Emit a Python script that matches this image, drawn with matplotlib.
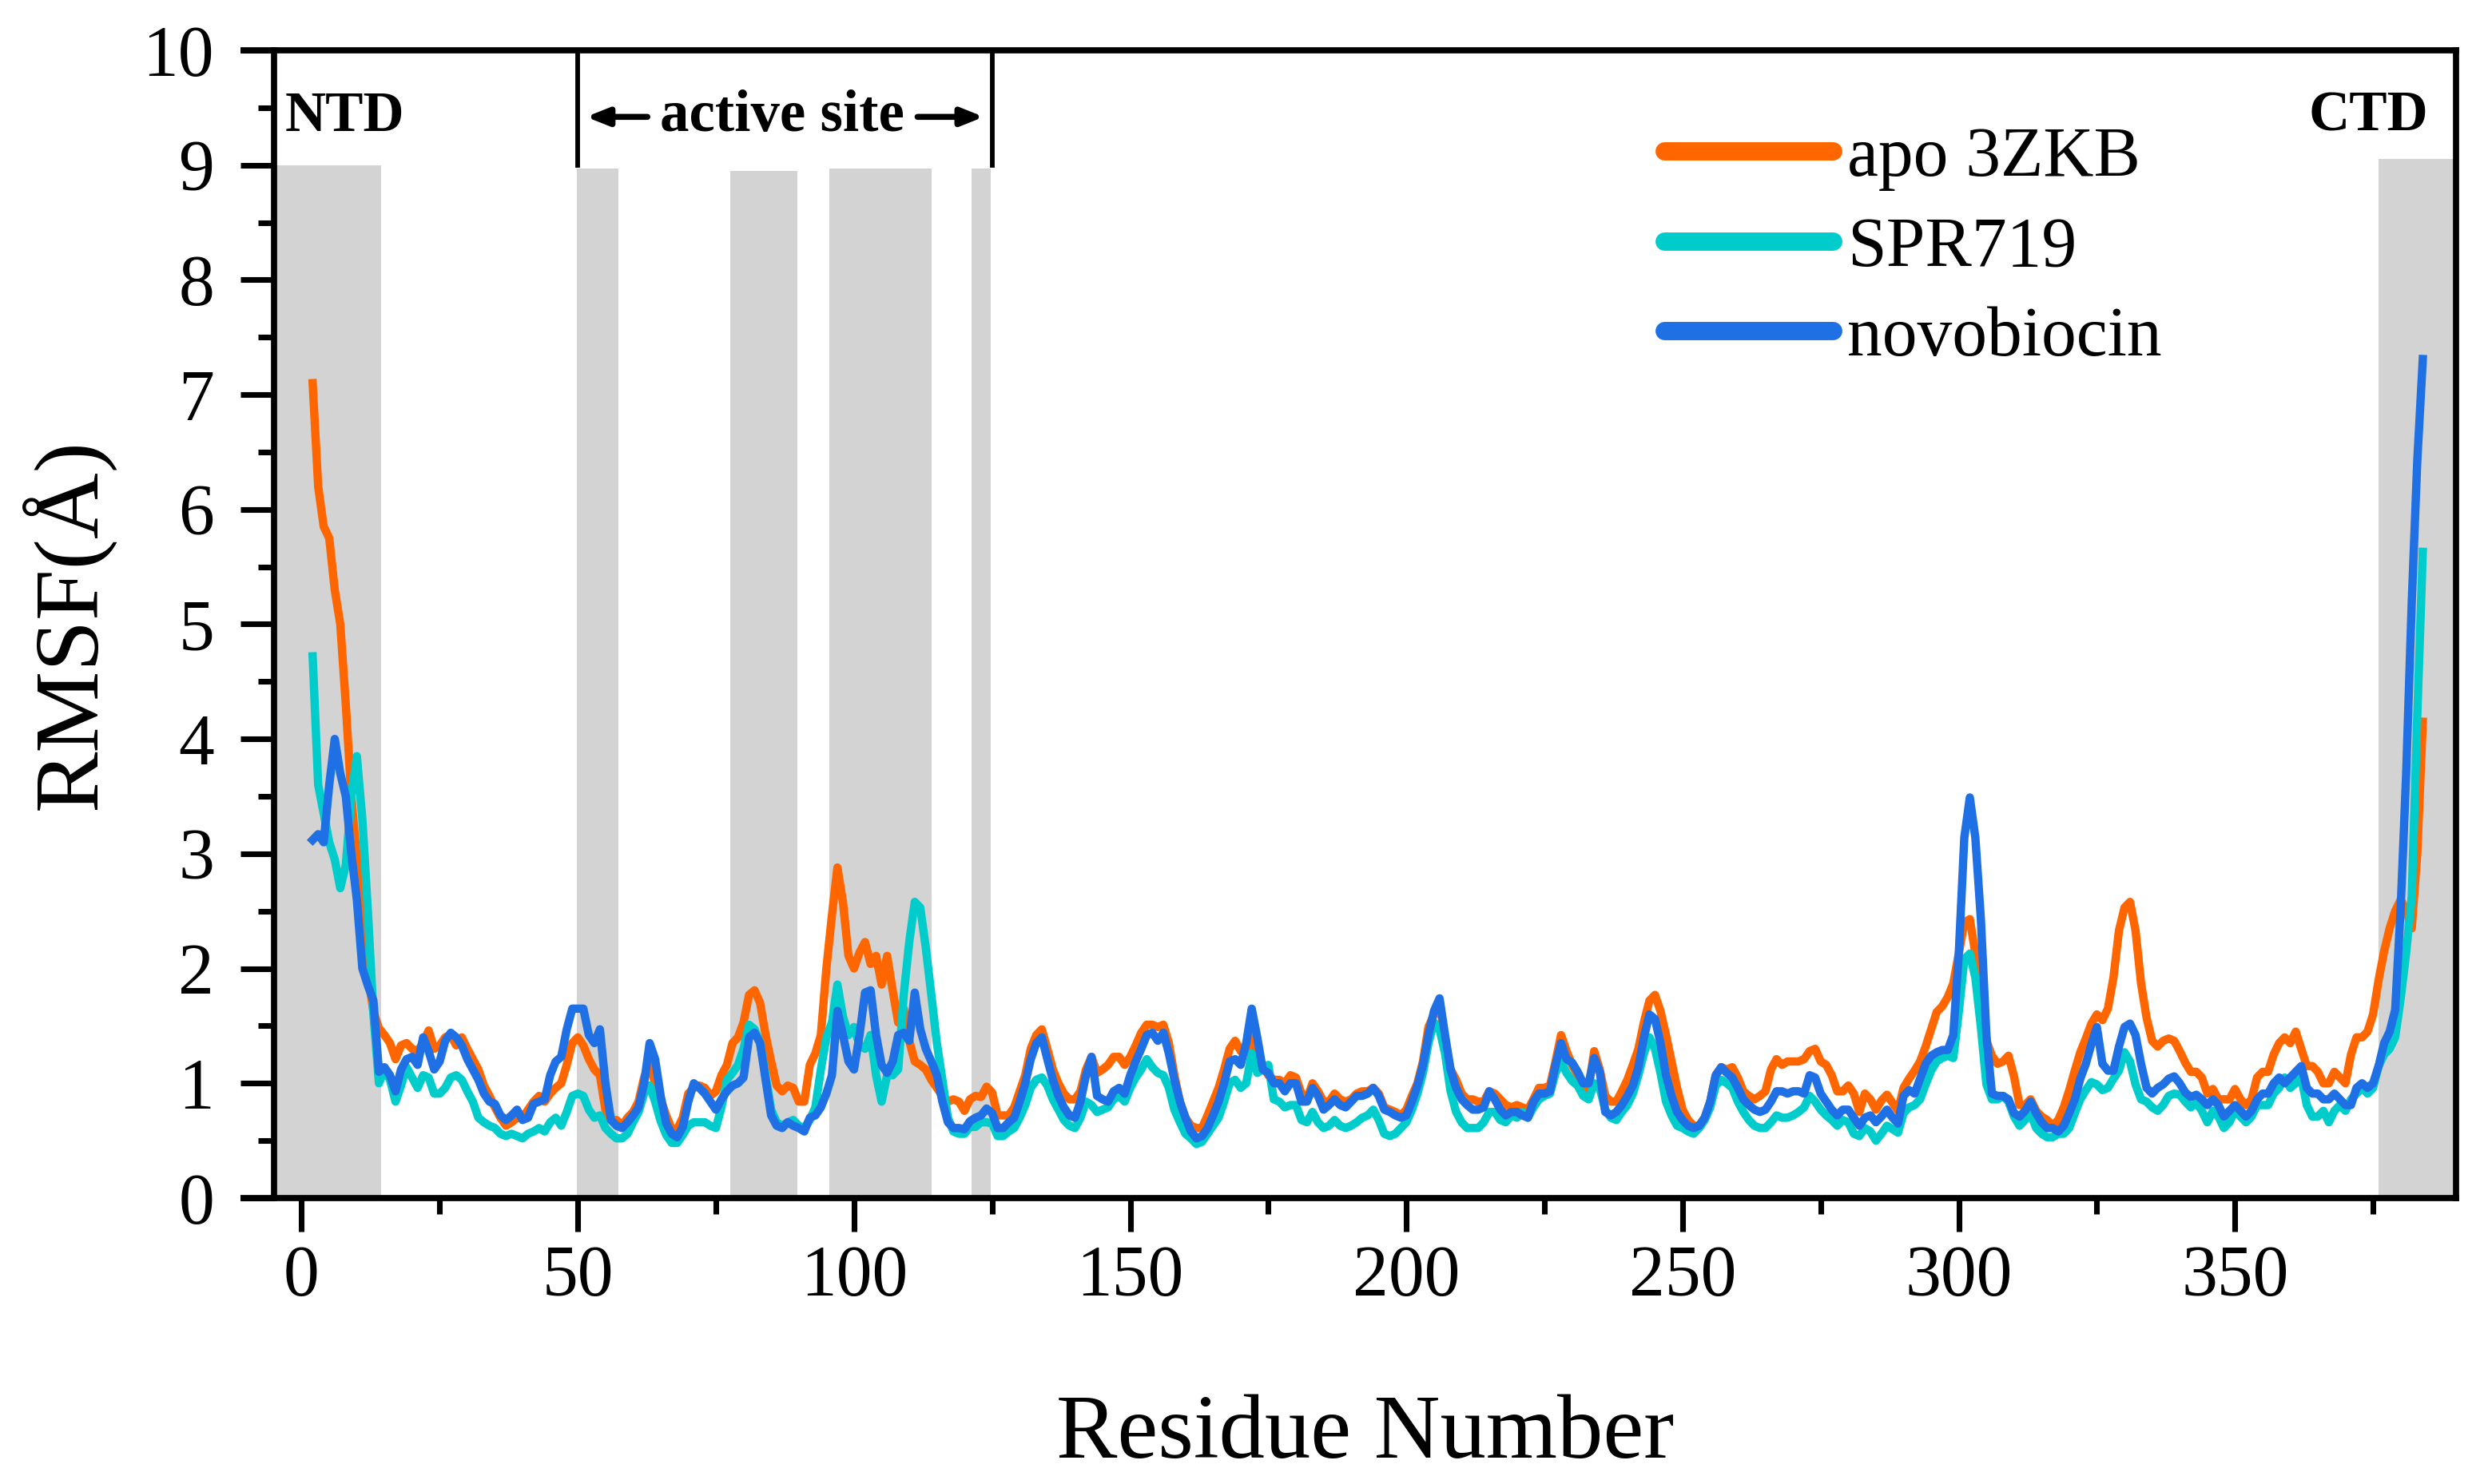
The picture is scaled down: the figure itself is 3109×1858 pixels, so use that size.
import matplotlib
matplotlib.use("Agg")
import matplotlib.pyplot as plt
from matplotlib.lines import Line2D

plt.rcParams['font.family'] = ['Liberation Serif', 'DejaVu Serif']

# ---------------- data ----------------
residues = list(range(2, 385))

apo_3zkb = [
    7.10, 6.20, 5.85, 5.75, 5.30, 5.00, 4.30, 3.50,
    2.95, 2.40, 1.95, 1.62, 1.48, 1.42, 1.35, 1.21, 1.33, 1.35,
    1.30, 1.28, 1.35, 1.46, 1.30, 1.33, 1.40, 1.42, 1.33, 1.40,
    1.30, 1.21, 1.12, 0.98, 0.89, 0.79, 0.70, 0.63, 0.66, 0.70,
    0.70, 0.77, 0.84, 0.89, 0.84, 0.91, 0.96, 1.00, 1.16, 1.35,
    1.40, 1.33, 1.21, 1.12, 1.07, 0.77, 0.68, 0.68, 0.63, 0.70,
    0.75, 0.84, 1.05, 1.16, 1.00, 0.86, 0.72, 0.60, 0.60, 0.70,
    0.91, 0.96, 0.98, 0.96, 0.89, 0.93, 1.07, 1.16, 1.35, 1.40,
    1.53, 1.77, 1.81, 1.70, 1.42, 1.19, 0.98, 0.93, 0.98, 0.96,
    0.84, 0.84, 1.16, 1.26, 1.42, 2.00, 2.46, 2.88, 2.58, 2.11,
    2.00, 2.14, 2.23, 2.04, 2.11, 1.86, 2.11, 1.81, 1.53, 1.65,
    1.37, 1.19, 1.16, 1.12, 1.03, 0.96, 0.89, 0.84, 0.86, 0.84,
    0.76, 0.86, 0.89, 0.88, 0.97, 0.92, 0.72, 0.72, 0.72, 0.79,
    0.93, 1.07, 1.30, 1.42, 1.47, 1.30, 1.12, 1.00, 0.91, 0.86,
    0.86, 0.93, 1.12, 1.23, 1.09, 1.12, 1.16, 1.23, 1.23, 1.16,
    1.23, 1.33, 1.44, 1.51, 1.51, 1.49, 1.51, 1.35, 1.07, 0.84,
    0.70, 0.63, 0.61, 0.61, 0.72, 0.84, 0.96, 1.12, 1.30, 1.37,
    1.28, 1.30, 1.40, 1.23, 1.16, 1.07, 1.03, 1.03, 1.00, 1.07,
    1.05, 0.91, 0.86, 1.00, 0.93, 0.84, 0.84, 0.91, 0.86, 0.84,
    0.86, 0.91, 0.93, 0.93, 0.96, 0.91, 0.79, 0.77, 0.75, 0.72,
    0.77, 0.89, 1.00, 1.19, 1.49, 1.60, 1.72, 1.35, 1.12, 1.03,
    0.91, 0.86, 0.86, 0.84, 0.84, 0.93, 0.91, 0.86, 0.81, 0.79,
    0.81, 0.79, 0.77, 0.86, 0.96, 0.96, 0.98, 1.19, 1.42, 1.28,
    1.16, 1.07, 0.93, 0.96, 1.28, 1.12, 0.89, 0.84, 0.84, 0.93,
    1.03, 1.16, 1.30, 1.53, 1.72, 1.77, 1.63, 1.42, 1.19, 0.96,
    0.77, 0.68, 0.63, 0.63, 0.70, 0.84, 1.07, 1.14, 1.12, 1.14,
    1.05, 0.93, 0.89, 0.86, 0.89, 0.93, 1.12, 1.21, 1.16, 1.19,
    1.19, 1.19, 1.21, 1.28, 1.30, 1.19, 1.16, 1.07, 0.93, 0.93,
    0.98, 0.91, 0.75, 0.91, 0.86, 0.77, 0.85, 0.90, 0.83, 0.76,
    0.96, 1.04, 1.11, 1.19, 1.32, 1.47, 1.62, 1.67, 1.75, 1.87,
    2.13, 2.40, 2.43, 2.13, 1.67, 1.37, 1.24, 1.17, 1.19, 1.24,
    1.06, 0.81, 0.81, 0.86, 0.76, 0.71, 0.68, 0.63, 0.68, 0.79,
    0.94, 1.11, 1.27, 1.39, 1.52, 1.60, 1.55, 1.65, 1.92, 2.33,
    2.53, 2.58, 2.33, 1.87, 1.57, 1.37, 1.32, 1.37, 1.39, 1.37,
    1.28, 1.18, 1.10, 1.10, 1.05, 0.91, 0.95, 0.86, 0.86, 0.86,
    0.95, 0.86, 0.81, 0.86, 1.05, 1.10, 1.10, 1.25, 1.35, 1.40,
    1.35, 1.45, 1.30, 1.15, 1.15, 1.10, 1.00, 1.00, 1.10, 1.05,
    1.00, 1.25, 1.40, 1.40, 1.45, 1.60, 1.90, 2.15, 2.35, 2.50,
    2.60, 2.50, 2.35, 3.00, 4.15,
]

spr719 = [
    4.72, 3.60, 3.35, 3.10, 2.95, 2.70, 2.90, 3.50,
    3.85, 3.30, 2.50, 1.60, 1.00, 1.12, 1.03, 0.84, 0.98, 1.14,
    1.05, 0.96, 1.07, 1.05, 0.91, 0.91, 0.96, 1.05, 1.07, 1.03,
    0.93, 0.84, 0.70, 0.66, 0.63, 0.61, 0.56, 0.54, 0.56, 0.54,
    0.52, 0.56, 0.58, 0.61, 0.58, 0.66, 0.70, 0.63, 0.75, 0.89,
    0.91, 0.89, 0.77, 0.70, 0.72, 0.61, 0.56, 0.52, 0.52, 0.56,
    0.66, 0.75, 0.91, 0.98, 0.84, 0.67, 0.55, 0.48, 0.48, 0.55,
    0.63, 0.66, 0.66, 0.66, 0.63, 0.61, 0.79, 1.03, 1.09, 1.16,
    1.30, 1.51, 1.47, 1.35, 1.07, 0.77, 0.66, 0.63, 0.66, 0.68,
    0.63, 0.61, 0.68, 0.79, 1.12, 1.40, 1.53, 1.86, 1.58, 1.42,
    1.49, 1.33, 1.30, 1.42, 1.07, 0.84, 1.07, 1.07, 1.12, 1.77,
    2.23, 2.58, 2.53, 2.18, 1.77, 1.35, 1.03, 0.70, 0.58, 0.56,
    0.56, 0.62, 0.62, 0.66, 0.66, 0.65, 0.54, 0.54, 0.58, 0.61,
    0.70, 0.81, 0.96, 1.03, 1.05, 0.98, 0.86, 0.77, 0.68, 0.63,
    0.61, 0.70, 0.84, 0.81, 0.75, 0.77, 0.79, 0.86, 0.89, 0.84,
    0.96, 1.05, 1.12, 1.21, 1.14, 1.09, 1.07, 0.96, 0.77, 0.66,
    0.56, 0.52, 0.47, 0.49, 0.56, 0.63, 0.70, 0.84, 1.00, 1.03,
    0.96, 1.00, 1.26, 1.09, 1.12, 1.16, 0.86, 0.84, 0.79, 0.81,
    0.81, 0.68, 0.66, 0.75, 0.66, 0.61, 0.63, 0.68, 0.63, 0.61,
    0.63, 0.66, 0.70, 0.72, 0.77, 0.68, 0.56, 0.54, 0.56, 0.61,
    0.66, 0.77, 0.91, 1.09, 1.35, 1.53, 1.47, 1.26, 0.93, 0.75,
    0.66, 0.61, 0.61, 0.61, 0.66, 0.75, 0.75, 0.68, 0.66, 0.72,
    0.70, 0.75, 0.70, 0.79, 0.86, 0.89, 0.91, 1.09, 1.19, 1.09,
    1.02, 0.98, 0.89, 0.86, 1.00, 0.96, 0.77, 0.70, 0.68, 0.75,
    0.81, 0.91, 1.07, 1.26, 1.40, 1.30, 1.09, 0.84, 0.72, 0.63,
    0.61, 0.58, 0.56, 0.61, 0.68, 0.79, 0.98, 1.03, 1.00, 0.96,
    0.84, 0.75, 0.68, 0.63, 0.61, 0.61, 0.66, 0.72, 0.70, 0.70,
    0.72, 0.75, 0.79, 0.89, 0.84, 0.77, 0.72, 0.68, 0.63, 0.68,
    0.66, 0.56, 0.54, 0.61, 0.58, 0.50, 0.56, 0.63, 0.60, 0.57,
    0.74, 0.79, 0.81, 0.86, 0.99, 1.11, 1.19, 1.22, 1.24, 1.22,
    1.62, 2.08, 2.13, 1.92, 1.49, 0.99, 0.86, 0.86, 0.89, 0.84,
    0.71, 0.63, 0.68, 0.74, 0.61, 0.56, 0.53, 0.53, 0.56, 0.56,
    0.61, 0.74, 0.86, 0.94, 1.01, 0.99, 0.94, 0.96, 1.04, 1.11,
    1.27, 1.19, 0.99, 0.86, 0.84, 0.79, 0.76, 0.81, 0.89, 0.91,
    0.90, 0.84, 0.79, 0.83, 0.76, 0.66, 0.76, 0.71, 0.61, 0.66,
    0.76, 0.71, 0.66, 0.71, 0.81, 0.81, 0.81, 0.91, 0.96, 1.05,
    0.96, 1.00, 1.05, 0.81, 0.71, 0.71, 0.76, 0.66, 0.76, 0.81,
    0.76, 0.86, 0.91, 0.96, 0.91, 0.96, 1.15, 1.25, 1.30, 1.40,
    1.74, 2.14, 2.63, 4.20, 5.63,
]

novobiocin = [
    3.12, 3.17, 3.10, 3.60, 4.00, 3.70, 3.50, 3.00,
    2.60, 2.00, 1.85, 1.72, 1.10, 1.14, 1.07, 0.93, 1.12, 1.21,
    1.23, 1.16, 1.40, 1.28, 1.12, 1.19, 1.37, 1.44, 1.40, 1.33,
    1.21, 1.12, 1.03, 0.91, 0.84, 0.82, 0.72, 0.68, 0.72, 0.77,
    0.68, 0.70, 0.82, 0.84, 0.86, 1.07, 1.19, 1.23, 1.47, 1.65,
    1.65, 1.65, 1.42, 1.35, 1.47, 1.00, 0.68, 0.63, 0.61, 0.66,
    0.72, 0.79, 1.00, 1.35, 1.21, 0.89, 0.65, 0.56, 0.53, 0.62,
    0.84, 1.00, 0.96, 0.91, 0.84, 0.77, 0.86, 0.93, 0.98, 1.00,
    1.05, 1.40, 1.44, 1.35, 1.03, 0.72, 0.63, 0.61, 0.66, 0.63,
    0.61, 0.58, 0.70, 0.72, 0.79, 0.91, 1.07, 1.63, 1.42, 1.19,
    1.12, 1.42, 1.79, 1.81, 1.42, 1.16, 1.09, 1.19, 1.42, 1.44,
    1.37, 1.79, 1.47, 1.30, 1.19, 1.07, 0.84, 0.66, 0.61, 0.61,
    0.60, 0.67, 0.70, 0.72, 0.78, 0.74, 0.61, 0.61, 0.66, 0.70,
    0.84, 1.00, 1.21, 1.35, 1.40, 1.21, 1.03, 0.89, 0.79, 0.72,
    0.70, 0.84, 1.07, 1.23, 0.89, 0.86, 0.84, 0.93, 0.96, 0.91,
    1.07, 1.19, 1.30, 1.42, 1.44, 1.37, 1.44, 1.26, 1.03, 0.84,
    0.70, 0.58, 0.52, 0.54, 0.61, 0.72, 0.84, 1.00, 1.19, 1.21,
    1.16, 1.35, 1.65, 1.40, 1.12, 1.09, 1.00, 1.00, 0.93, 1.00,
    1.00, 0.84, 0.84, 0.96, 0.89, 0.77, 0.81, 0.86, 0.81, 0.79,
    0.84, 0.89, 0.89, 0.91, 0.96, 0.89, 0.77, 0.75, 0.72, 0.70,
    0.72, 0.84, 0.98, 1.16, 1.42, 1.63, 1.74, 1.42, 1.12, 0.96,
    0.86, 0.81, 0.77, 0.77, 0.79, 0.93, 0.86, 0.77, 0.72, 0.75,
    0.75, 0.72, 0.70, 0.84, 0.91, 0.91, 0.93, 1.16, 1.35, 1.21,
    1.18, 1.10, 1.00, 1.00, 1.22, 1.10, 0.75, 0.72, 0.75, 0.81,
    0.89, 0.98, 1.14, 1.40, 1.60, 1.56, 1.35, 1.07, 0.89, 0.75,
    0.68, 0.63, 0.61, 0.63, 0.70, 0.84, 1.07, 1.14, 1.09, 1.05,
    0.96, 0.86, 0.81, 0.77, 0.75, 0.77, 0.84, 0.93, 0.93, 0.91,
    0.93, 0.93, 0.91, 1.07, 1.05, 0.91, 0.84, 0.77, 0.72, 0.77,
    0.77, 0.70, 0.63, 0.70, 0.72, 0.66, 0.71, 0.77, 0.70, 0.65,
    0.89, 0.94, 0.91, 1.04, 1.17, 1.24, 1.27, 1.29, 1.29, 1.42,
    2.13, 3.14, 3.49, 3.14, 2.43, 1.42, 0.91, 0.89, 0.89, 0.86,
    0.74, 0.71, 0.76, 0.84, 0.74, 0.66, 0.61, 0.61, 0.58, 0.63,
    0.74, 0.86, 1.04, 1.17, 1.34, 1.49, 1.17, 1.11, 1.11, 1.32,
    1.49, 1.52, 1.42, 1.17, 0.96, 0.91, 0.96, 0.99, 1.04, 1.06,
    1.00, 0.92, 0.88, 0.90, 0.86, 0.81, 0.86, 0.81, 0.71, 0.76,
    0.81, 0.76, 0.71, 0.76, 0.86, 0.91, 0.91, 1.00, 1.05, 1.00,
    1.05, 1.10, 1.15, 0.96, 0.91, 0.91, 0.86, 0.86, 0.91, 0.86,
    0.81, 0.81, 0.96, 1.00, 0.96, 1.00, 1.15, 1.35, 1.45, 1.64,
    2.53, 3.71, 5.19, 6.42, 7.31,
]

series_labels = ['apo 3ZKB', 'SPR719', 'novobiocin']
series_colors = ['#FF6600', '#00CCCC', '#1F6FE5']

# shaded residue ranges (start, end, top)
shade_start = [-5.0, 49.8, 77.6, 95.5, 121.3, 376.0]
shade_end = [14.4, 57.3, 89.7, 114.0, 124.7, 390.0]
shade_top = [9.0, 8.97, 8.95, 8.97, 8.97, 9.05]

region_lines = [50, 125]
x_ticks = [0, 50, 100, 150, 200, 250, 300, 350]
y_ticks = list(range(0, 11))

# ---------------- figure ----------------
fig = plt.figure(figsize=(3109 / 300, 1858 / 300), dpi=300)
ax = fig.add_axes([0.1103, 0.1927, 0.9887 - 0.1103, 0.9661 - 0.1927])

for s, e, t in zip(shade_start, shade_end, shade_top):
    ax.fill_between([s, e], 0, t, color='#D3D3D3', lw=0, zorder=0)

for vals, lab, col in zip([apo_3zkb, spr719, novobiocin], series_labels, series_colors):
    ax.plot(residues, vals, color=col, lw=2.5, label=lab, zorder=3)

for xv in region_lines:
    ax.plot([xv, xv], [9.0, 10.0], color='black', lw=1.4, zorder=4, clip_on=False)

ax.set_xlim(-5, 390)
ax.set_ylim(0, 10)
ax.set_xticks(x_ticks)
ax.set_xticks([25 + 50 * i for i in range(8)], minor=True)
ax.set_yticks(y_ticks)
ax.set_yticks([0.5 + i for i in range(10)], minor=True)

for sp in ax.spines.values():
    sp.set_linewidth(1.85)
ax.tick_params(axis='both', which='major', direction='out', length=10, width=1.7,
               labelsize=21.5)
ax.tick_params(axis='both', which='minor', direction='out', length=4.8, width=1.7)
ax.tick_params(axis='x', which='major', pad=4)
ax.tick_params(axis='y', which='major', pad=8)

# horizontal spines extend leftwards to the tick tips
ext = 10 * 300 / 72 / (fig.get_size_inches()[0] * 300 * (0.9887 - 0.1103))
for yy in (0, 1):
    ax.add_line(Line2D([-ext, 0], [yy, yy], transform=ax.transAxes, color='black',
                       lw=1.85, clip_on=False, solid_capstyle='butt'))

ax.set_xlabel('Residue Number', fontsize=27.5)
ax.set_ylabel('RMSF(Å)', fontsize=27.5)
ax.xaxis.set_label_coords(0.5, -0.171)
ax.yaxis.set_label_coords(-0.073, 0.5)

# region annotations
ax.text(-3.0, 9.42, 'NTD', fontsize=17, fontweight='bold', ha='left', va='center')
ax.text(385.0, 9.42, 'CTD', fontsize=17, fontweight='bold', ha='right', va='center')
ax.text(87.0, 9.42, 'active site', fontsize=17.5, fontweight='bold', ha='center', va='center')
ax.annotate('', xy=(50.3, 9.42), xytext=(63.8, 9.42),
            arrowprops=dict(arrowstyle='-|>,head_length=0.55,head_width=0.22', color='black', lw=1.8))
ax.annotate('', xy=(124.7, 9.42), xytext=(110.3, 9.42),
            arrowprops=dict(arrowstyle='-|>,head_length=0.55,head_width=0.22', color='black', lw=1.8))

leg = ax.legend(loc='upper left', bbox_to_anchor=(0.637, 0.934), frameon=False,
                fontsize=21, handlelength=2.42, handletextpad=0.2, labelspacing=0.36,
                borderpad=0, borderaxespad=0)
for h in leg.legend_handles:
    h.set_linewidth(5.5)
    h.set_solid_capstyle('round')

fig.savefig('out.png', dpi=300)
